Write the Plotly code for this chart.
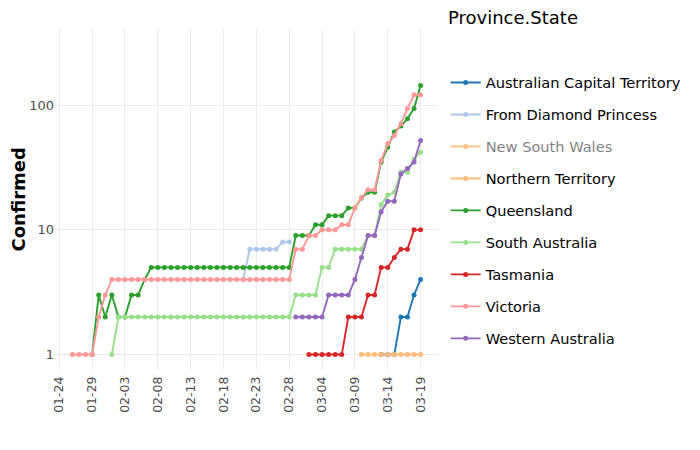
import plotly.graph_objects as go
import pandas as pd

# ---- data ----
series_names = [
    "Australian Capital Territory", "From Diamond Princess", "New South Wales",
    "Northern Territory", "Queensland", "South Australia", "Tasmania",
    "Victoria", "Western Australia",
]
series_colors = ["#1f77b4", "#aec7e8", "#ff7f0e", "#ffbb78", "#2ca02c",
                 "#98df8a", "#d62728", "#ff9896", "#9467bd"]
series_start = ["2020-03-13", "2020-02-21", "2020-01-26", "2020-03-10", "2020-01-29",
                "2020-02-01", "2020-03-02", "2020-01-26", "2020-02-29"]

act = [1, 1, 1, 2, 2, 3, 4]
diamond_princess = [4, 7, 7, 7, 7, 7, 8, 8]
new_south_wales = [3, 4, 4, 4, 4, 4, 4, 4, 4, 4, 4, 4, 4, 4, 4, 4, 4, 4, 4, 4,
                   4, 4, 4, 4, 4, 4, 4, 4, 4, 4, 4, 4, 4, 4, 4, 6, 6, 13, 22, 22,
                   26, 28, 38, 48, 55, 65, 65, 92, 112, 134, 171, 210, 267, 307]
northern_territory = [1, 1, 1, 1, 1, 1, 1, 1, 1, 1]
queensland = [1, 3, 2, 3, 2, 2, 3, 3, 4,
              5, 5, 5, 5, 5, 5, 5, 5, 5, 5, 5, 5, 5, 5, 5, 5, 5, 5, 5, 5, 5, 5,
              9, 9, 9, 11, 11, 13, 13, 13, 15, 15, 18, 20, 20, 35, 46, 61, 68, 78, 94, 144]
south_australia = [1,
                   2, 2, 2, 2, 2, 2, 2, 2, 2, 2, 2, 2, 2, 2, 2, 2, 2, 2, 2, 2, 2, 2, 2, 2, 2, 2, 2,
                   3, 3, 3, 3, 5, 5, 7, 7, 7, 7, 7, 9, 9, 16, 19, 20, 29, 29, 37, 42]
tasmania = [1, 1, 1, 1, 1, 1, 2, 2, 2, 3, 3, 5, 5, 6, 7, 7, 10, 10]
victoria = [1, 1, 1, 1, 2, 3,
            4, 4, 4, 4, 4, 4, 4, 4, 4, 4, 4, 4, 4, 4, 4, 4, 4, 4, 4, 4, 4, 4, 4, 4, 4, 4, 4, 4,
            7, 7, 9, 9, 10, 10, 10, 11, 11, 15, 18, 21, 21, 36, 49, 57, 71, 94, 121, 121]
western_australia = [2, 2, 2, 2, 2, 3, 3, 3, 3, 4, 6, 9, 9, 14, 17, 17, 28, 31, 35, 52]

series_values = [act, diamond_princess, new_south_wales, northern_territory, queensland,
                 south_australia, tasmania, victoria, western_australia]
hidden_series = ["New South Wales"]

tick_dates = ["2020-01-24", "2020-01-29", "2020-02-03", "2020-02-08", "2020-02-13",
              "2020-02-18", "2020-02-23", "2020-02-28", "2020-03-04", "2020-03-09",
              "2020-03-14", "2020-03-19"]
tick_labels = ["01-24", "01-29", "02-03", "02-08", "02-13", "02-18", "02-23",
               "02-28", "03-04", "03-09", "03-14", "03-19"]
y_ticks = [1, 10, 100]
y_tick_labels = ["1", "10", "100"]

# ---- figure ----
fig = go.Figure()
for name, color, start, vals in zip(series_names, series_colors, series_start, series_values):
    dates = pd.date_range(start, periods=len(vals), freq="D")
    fig.add_trace(go.Scatter(
        x=dates, y=vals, name=name, legendgroup=name,
        mode="lines+markers",
        line=dict(color=color, width=1.9),
        marker=dict(color=color, size=5),
        visible="legendonly" if name in hidden_series else True,
    ))

FONT = "DejaVu Sans"
fig.update_layout(
    width=692, height=442,
    margin=dict(l=47, r=262, t=21, b=80),
    paper_bgcolor="white", plot_bgcolor="white",
    font=dict(family=FONT, color="black"),
    showlegend=True,
    legend=dict(
        x=1.02, xanchor="left", y=0.89, yanchor="top",
        font=dict(family=FONT, size=14.6, color="black"),
        tracegroupgap=10, bgcolor="rgba(0,0,0,0)",
    ),
    xaxis=dict(
        type="date",
        range=["2020-01-23 08:24", "2020-03-21 15:36"],
        tickvals=tick_dates, ticktext=tick_labels, tickangle=-90,
        tickfont=dict(family=FONT, size=12.5, color="#4d4d4d"),
        ticklabelstandoff=3,
        showgrid=True, gridcolor="#ebebeb", gridwidth=1,
        zeroline=False, showline=False, ticks="",
    ),
    yaxis=dict(
        type="log",
        range=[-0.124, 2.611],
        tickvals=y_ticks, ticktext=y_tick_labels,
        tickfont=dict(family=FONT, size=13, color="#4d4d4d"),
        showgrid=True, gridcolor="#ebebeb", gridwidth=1,
        zeroline=False, showline=False, ticks="",
    ),
    annotations=[
        dict(text="<b>Confirmed</b>", x=-0.094, y=0.5, xref="paper", yref="paper",
             textangle=-90, showarrow=False, xanchor="center", yanchor="middle",
             font=dict(family=FONT, size=18, color="black")),
        dict(text="Province.State", x=1.02, y=1.035, xref="paper", yref="paper",
             showarrow=False, xanchor="left", yanchor="middle",
             font=dict(family=FONT, size=18, color="black")),
    ],
)

fig.write_html("out.html")
